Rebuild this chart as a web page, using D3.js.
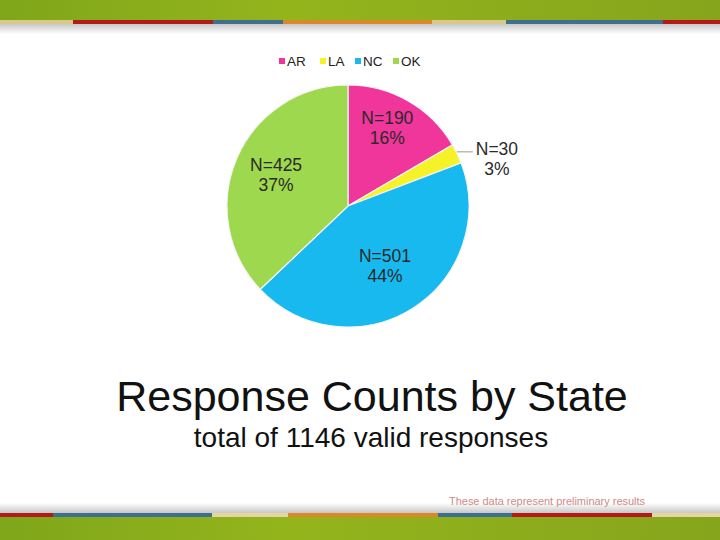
<!DOCTYPE html>
<html><head><meta charset="utf-8">
<script src="https://cdn.jsdelivr.net/npm/d3@7"></script>
<style>body{margin:0;background:#fff}svg{display:block}</style>
</head><body>
<script>
const states = ["AR","LA","NC","OK"];
const counts = [190,30,501,425];
const percents = ["16%","3%","44%","37%"];
const colors = ["#f0359b","#f5f227","#17b9ef","#9ed84f"];
const title = "Response Counts by State";
const subtitle = "total of 1146 valid responses";
const footnote = "These data represent preliminary results";
const topStripe = [["#d9c88a",0,73],["#b31b1b",73,213],["#3f6f8f",213,283],["#d9892a",283,432],["#d9c88a",432,506],["#3f6f8f",506,663],["#b31b1b",663,720]];
const botStripe = [["#b31b1b",0,53],["#3f6f8f",53,212],["#e3d6a0",212,288],["#d9892a",288,438],["#3f6f8f",438,512],["#b31b1b",512,652],["#e3d6a0",652,720]];

const W=720,H=540;
const svg=d3.select("body").append("svg").attr("width",W).attr("height",H);
const defs=svg.append("defs");
const g1=defs.append("linearGradient").attr("id","grn").attr("x1",0).attr("x2",1);
g1.append("stop").attr("offset","0").attr("stop-color","#7fa61a");
g1.append("stop").attr("offset","0.4").attr("stop-color","#94b41c");
g1.append("stop").attr("offset","1").attr("stop-color","#86a51c");
const sh1=defs.append("linearGradient").attr("id","shT").attr("x1",0).attr("x2",0).attr("y1",0).attr("y2",1);
sh1.append("stop").attr("offset","0").attr("stop-color","#c8c8c8");
sh1.append("stop").attr("offset","1").attr("stop-color","#ffffff");
const sh2=defs.append("linearGradient").attr("id","shB").attr("x1",0).attr("x2",0).attr("y1",1).attr("y2",0);
sh2.append("stop").attr("offset","0").attr("stop-color","#c8c8c8");
sh2.append("stop").attr("offset","1").attr("stop-color","#ffffff");

// top band
svg.append("rect").attr("x",0).attr("y",0).attr("width",W).attr("height",21).attr("fill","url(#grn)");
svg.append("rect").attr("x",0).attr("y",24).attr("width",W).attr("height",10).attr("fill","url(#shT)");
svg.selectAll(".ts").data(topStripe).join("rect").attr("x",d=>d[1]).attr("y",20).attr("width",d=>d[2]-d[1]).attr("height",4).attr("fill",d=>d[0]);
// bottom band
svg.append("rect").attr("x",0).attr("y",503).attr("width",W).attr("height",10).attr("fill","url(#shB)");
svg.append("rect").attr("x",0).attr("y",516).attr("width",W).attr("height",24).attr("fill","url(#grn)");
svg.selectAll(".bs").data(botStripe).join("rect").attr("x",d=>d[1]).attr("y",513).attr("width",d=>d[2]-d[1]).attr("height",4).attr("fill",d=>d[0]);

// pie
const cx=348,cy=206,R=121;
const pie=d3.pie().sort(null).value(d=>d)(counts);
const arc=d3.arc().innerRadius(0).outerRadius(R);
const pg=svg.append("g").attr("transform",`translate(${cx},${cy})`);
pg.selectAll("path").data(pie).join("path").attr("d",arc).attr("fill",(d,i)=>colors[i]).attr("stroke","#f4f4f4").attr("stroke-width",1.2);

const lab=d3.arc().innerRadius(R*0.62).outerRadius(R*0.62);
const font="Liberation Sans, Arial, sans-serif";
pie.forEach((d,i)=>{
  let [x,y]=lab.centroid(d);
  if(i===1){
    const [ox,oy]=d3.arc().innerRadius(R+2).outerRadius(R+2).centroid(d);
    pg.append("line").attr("x1",ox-2).attr("y1",oy-1).attr("x2",ox+14).attr("y2",oy-1).attr("stroke","#999").attr("stroke-width",1);
    x=ox+38;y=oy+6;
  }
  if(i===0){x+=2;y+=-13;}
  if(i===2){x+=-3;y+=-3;}
  if(i===3){x+=-3;y+=-1;}
  const t=pg.append("text").attr("text-anchor","middle").attr("font-family",font).attr("font-size",17.5).attr("fill","#2a2a2a");
  t.append("tspan").attr("x",x).attr("y",y-4).text("N="+counts[i]);
  t.append("tspan").attr("x",x).attr("y",y+16).text(percents[i]);
});

// legend
const legX=[279,320,355,393];
const lg=svg.append("g");
states.forEach((s,i)=>{
  lg.append("rect").attr("x",legX[i]).attr("y",58).attr("width",6).attr("height",6).attr("fill",colors[i]);
  lg.append("text").attr("x",legX[i]+8).attr("y",66).attr("font-family",font).attr("font-size",13.5).attr("fill","#222").text(s);
});

svg.append("text").attr("x",372).attr("y",411).attr("text-anchor","middle").attr("font-family",font).attr("font-size",43).attr("fill","#111").text(title);
svg.append("text").attr("x",371).attr("y",447).attr("text-anchor","middle").attr("font-family",font).attr("font-size",28).attr("fill","#111").text(subtitle);
svg.append("text").attr("x",449).attr("y",505).attr("font-family",font).attr("font-size",11).attr("fill","#d08a8a").attr("textLength",196).text(footnote);
</script>
</body></html>
